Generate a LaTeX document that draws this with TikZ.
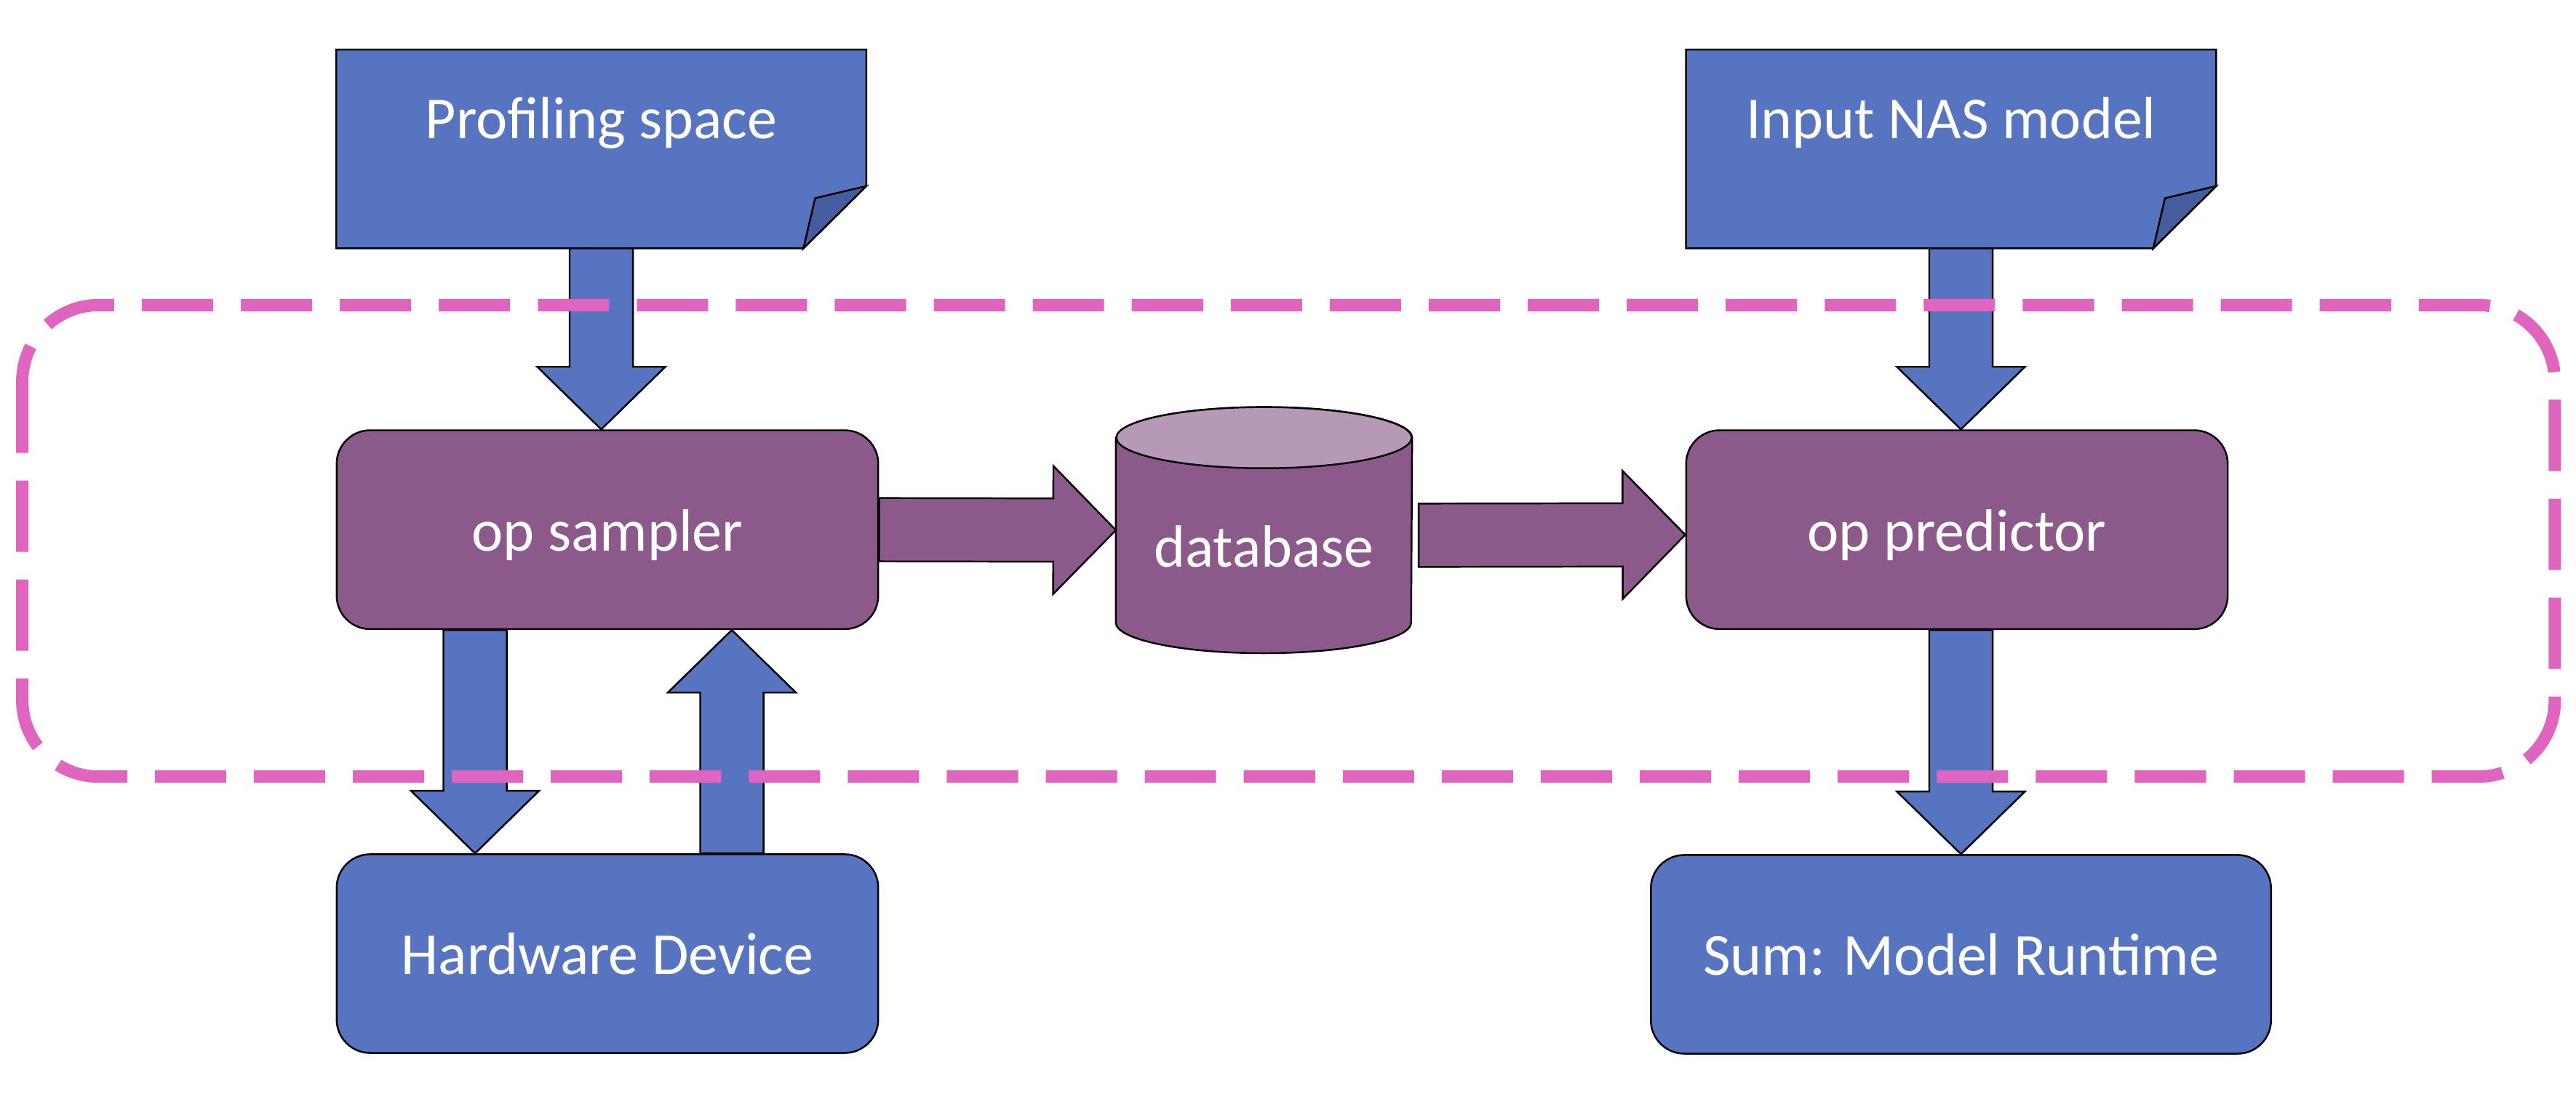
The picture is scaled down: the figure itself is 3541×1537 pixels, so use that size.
\documentclass[tikz,border=0pt]{standalone}
\usepackage{fontspec}
\setmainfont{Carlito}
\usepackage{tikz}
\usetikzlibrary{calc,backgrounds}
\definecolor{boxblue}{RGB}{87,116,192}
\definecolor{boxpurple}{RGB}{139,89,138}
\definecolor{dbtop}{RGB}{182,153,183}
\definecolor{foldblue}{RGB}{69,93,158}
\definecolor{framepink}{RGB}{223,101,190}
\newcommand{\boxfont}{\fontsize{23.3}{28}\selectfont}
\tikzset{
    doc/.style={
        rectangle,
        minimum width=7.27cm,
        minimum height=2.716cm,
        inner sep=0pt,
        text=white,
        text height=0.6cm,
        text depth=0.876cm,
        font=\boxfont
    },
    docline/.style={draw=black,line width=0.7pt,fill=boxblue},
    foldline/.style={draw=black,line width=0.7pt,fill=foldblue},
    proc/.style={
        rectangle,
        draw=black,
        fill=boxpurple,
        line width=0.7pt,
        rounded corners=0.46cm,
        minimum width=7.44cm,
        minimum height=2.732cm,
        inner sep=0pt,
        text=white,
        text height=0.8cm,
        text depth=0.212cm,
        font=\boxfont
    },
    iobox/.style={
        proc,
        fill=boxblue,
        minimum height=2.73cm,
        text height=0.78cm,
        text depth=0.22cm
    },
    dbbox/.style={
        rectangle,
        minimum width=4.056cm,
        minimum height=3.367cm,
        inner sep=0pt,
        text=white,
        text height=1.2cm,
        text depth=0.19cm,
        font=\boxfont
    },
    dbline/.style={draw=black,line width=0.7pt,fill=boxpurple},
    blockarr/.style={
        draw=black,
        line width=0.7pt,
        fill=#1,
        to path={
            ($(\tikztostart)!0.435cm!90:(\tikztotarget)$)
            -- ($(\tikztotarget)!0.86cm!(\tikztostart)!0.435cm!90:(\tikztotarget)$)
            -- ($(\tikztotarget)!0.86cm!(\tikztostart)!0.88cm!90:(\tikztotarget)$)
            -- (\tikztotarget)
            -- ($(\tikztotarget)!0.86cm!(\tikztostart)!0.88cm!-90:(\tikztotarget)$)
            -- ($(\tikztotarget)!0.86cm!(\tikztostart)!0.435cm!-90:(\tikztotarget)$)
            -- ($(\tikztostart)!0.435cm!-90:(\tikztotarget)$)
            -- cycle
        }
    },
    blockarr/.default=boxblue,
    groupframe/.style={
        draw=framepink,
        line width=0.17cm,
        dash pattern=on 0.98cm off 0.38cm,
        rounded corners=1.05cm
    }
}

\begin{document}
\begin{tikzpicture}[x=0.01cm,y=-0.01cm]
\useasboundingbox (0,0) rectangle (3541,1537);

\node[doc] (prof) at (826.5,204.8) {Profiling space};
\node[doc] (nas) at (2682,204.8) {Input NAS model};

\node[proc] (sampler) at (835,728.2) {op sampler};
\node[dbbox] (db) at (1737.5,728.85) {database};
\node[proc] (pred) at (2690,728.2) {op predictor};

\node[iobox] (hw) at (835,1311) {Hardware Device};
\node[iobox,minimum width=8.52cm] (sum) at (2695.5,1312) {Sum: Model Runtime};

\begin{scope}[on background layer]
\filldraw[docline] (prof.north west) -- (prof.north east) -- ($(prof.south east)+(0,-85.6)$)
    -- ($(prof.south east)+(-86.5,0)$) -- (prof.south west) -- cycle;
\filldraw[foldline] ($(prof.south east)+(-86.5,0)$) -- ($(prof.south east)+(-70.4,-68.9)$)
    -- ($(prof.south east)+(0,-85.6)$) -- cycle;
\filldraw[docline] (nas.north west) -- (nas.north east) -- ($(nas.south east)+(0,-85.6)$)
    -- ($(nas.south east)+(-86.5,0)$) -- (nas.south west) -- cycle;
\filldraw[foldline] ($(nas.south east)+(-86.5,0)$) -- ($(nas.south east)+(-70.4,-68.9)$)
    -- ($(nas.south east)+(0,-85.6)$) -- cycle;

\filldraw[dbline] ($(db.north west)+(0,42)$) -- ($(db.south west)+(0,-42)$)
    arc[start angle=180,end angle=360,x radius=2.028cm,y radius=0.42cm]
    -- ($(db.north east)+(0,42)$)
    arc[start angle=0,end angle=180,x radius=2.028cm,y radius=0.42cm] -- cycle;
\filldraw[dbline,fill=dbtop] ($(db.north)+(0,42)$) ellipse[x radius=2.028cm,y radius=0.42cm];
\end{scope}

\coordinate (smptop) at (sampler.north -| prof);
\coordinate (smpdown) at ($(sampler.south)+(-182,0)$);
\coordinate (hwdown) at ($(hw.north)+(-182,0)$);
\coordinate (hwup) at ($(hw.north)+(171,0)$);
\coordinate (smpup) at ($(sampler.south)+(171,0)$);
\coordinate (dbout) at ($(db.east)+(9,7)$);
\coordinate (predin) at ($(pred.west)+(0,7)$);
\coordinate (nasout) at (nas.south -| sum);
\coordinate (predtop) at (pred.north -| sum);
\coordinate (predbot) at (pred.south -| sum);

\draw[blockarr] (prof.south) to (smptop);
\draw[blockarr] (smpdown) to (hwdown);
\draw[blockarr] (hwup) to (smpup);
\draw[blockarr=boxpurple] (sampler.east) to (db.west);
\draw[blockarr=boxpurple] (dbout) to (predin);
\draw[blockarr] (nasout) to (predtop);
\draw[blockarr] (predbot) to (sum.north);

\draw[groupframe] (30.6,419.4) rectangle (3511.9,1067.7);
\end{tikzpicture}
\end{document}
